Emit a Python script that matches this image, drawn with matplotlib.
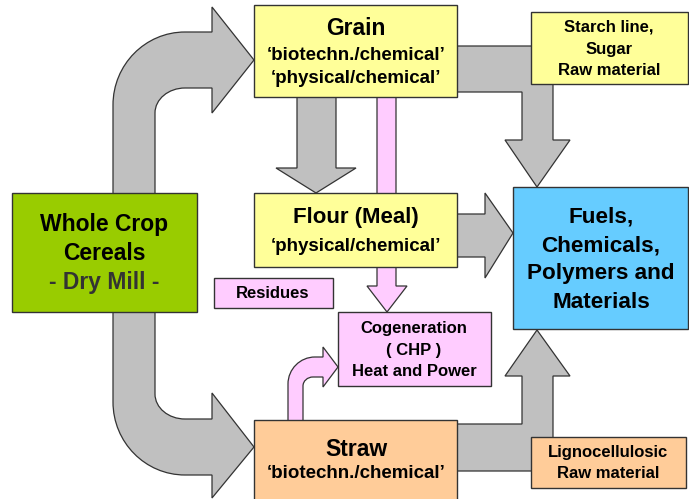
import matplotlib
matplotlib.use("Agg")
import matplotlib.pyplot as plt
from matplotlib.path import Path
from matplotlib.patches import PathPatch, Rectangle

plt.rcParams["font.family"] = ["Liberation Sans", "DejaVu Sans"]

# box texts
whole_crop = ["Whole Crop", "Cereals"]
dry_mill = "- Dry Mill -"
grain_lines = ["Grain", "\u2018biotechn./chemical\u2019", "\u2018physical/chemical\u2019"]
flour_lines = ["Flour (Meal)", "\u2018physical/chemical\u2019"]
straw_lines = ["Straw", "\u2018biotechn./chemical\u2019"]
starch_lines = ["Starch line,", "Sugar", "Raw material"]
ligno_lines = ["Lignocellulosic", "Raw material"]
fuels_lines = ["Fuels,", "Chemicals,", "Polymers and", "Materials"]
cogen_lines = ["Cogeneration", "( CHP )", "Heat and Power"]
residues = "Residues"

GRAY = "#C0C0C0"
PINK = "#FFCCFF"
EDGE = "#333333"
K = 0.552

fig = plt.figure(figsize=(6.89, 4.99), dpi=100)
ax = fig.add_axes([0, 0, 1, 1])
ax.set_xlim(0, 689)
ax.set_ylim(499, 0)
ax.axis("off")


def shape(segs, color, z=1):
    # segs: list of ("M"/"L", (x, y)) or ("C", p1, p2, p3)
    verts, codes = [], []
    for s in segs:
        if s[0] == "M":
            verts.append(s[1]); codes.append(Path.MOVETO)
        elif s[0] == "L":
            verts.append(s[1]); codes.append(Path.LINETO)
        else:
            verts += [s[1], s[2], s[3]]; codes += [Path.CURVE4] * 3
    verts.append(verts[0]); codes.append(Path.CLOSEPOLY)
    ax.add_patch(PathPatch(Path(verts, codes), facecolor=color,
                           edgecolor=EDGE, lw=0.9, zorder=z))


def box(x0, y0, x1, y1, color, z=2):
    ax.add_patch(Rectangle((x0, y0), x1 - x0, y1 - y0, facecolor=color,
                           edgecolor=EDGE, lw=1.0, zorder=z))


def lines(x, ys, texts, sizes, color="black"):
    for y, t, s in zip(ys, texts, sizes):
        ax.text(x, y, t, ha="center", va="center", fontsize=s,
                fontweight="bold", color=color, zorder=5)


# upper curved arrow: whole crop -> grain
shape([("M", (113, 200)), ("L", (113, 105)),
       ("C", (113, 105 - K * 73), (185 - K * 72, 32), (185, 32)),
       ("L", (212, 32)), ("L", (212, 7)), ("L", (254, 60)), ("L", (212, 113)),
       ("L", (212, 88)), ("L", (185, 88)),
       ("C", (185 - K * 30, 88), (155, 113 - K * 25), (155, 113)),
       ("L", (155, 200))], GRAY)

# lower curved arrow: whole crop -> straw
shape([("M", (113, 305)), ("L", (113, 402)),
       ("C", (113, 402 + K * 73), (185 - K * 72, 475), (185, 475)),
       ("L", (212, 475)), ("L", (212, 498)), ("L", (254, 447)), ("L", (212, 393)),
       ("L", (212, 419)), ("L", (185, 419)),
       ("C", (185 - K * 30, 419), (155, 394 + K * 25), (155, 394)),
       ("L", (155, 305))], GRAY)

# grain -> flour
shape([("M", (297, 95)), ("L", (336, 95)), ("L", (336, 168)), ("L", (356, 168)),
       ("L", (316, 193)), ("L", (276, 168)), ("L", (297, 168))], GRAY)

# grain -> starch -> fuels
shape([("M", (455, 46)), ("L", (553, 46)), ("L", (553, 140)), ("L", (570, 140)),
       ("L", (537, 187)), ("L", (505, 140)), ("L", (522, 140)), ("L", (522, 92)),
       ("L", (455, 92))], GRAY)

# flour -> fuels
shape([("M", (455, 214)), ("L", (485, 214)), ("L", (485, 193)), ("L", (513, 233)),
       ("L", (485, 278)), ("L", (485, 257)), ("L", (455, 257))], GRAY)

# straw -> lignocellulosic -> fuels
shape([("M", (455, 471)), ("L", (553, 471)), ("L", (553, 376)), ("L", (570, 376)),
       ("L", (537, 330)), ("L", (505, 376)), ("L", (522, 376)), ("L", (522, 424)),
       ("L", (455, 424))], GRAY)

# pink line grain -> flour -> cogeneration
shape([("M", (377, 95)), ("L", (396, 95)), ("L", (396, 286)), ("L", (407, 286)),
       ("L", (387, 312)), ("L", (367, 286)), ("L", (377, 286))], PINK)

# pink curved arrow straw -> cogeneration
shape([("M", (288, 422)), ("L", (288, 384)),
       ("C", (288, 384 - K * 27), (315 - K * 27, 357), (315, 357)),
       ("L", (323, 357)), ("L", (323, 347)), ("L", (338, 367)), ("L", (323, 387)),
       ("L", (323, 377)), ("L", (313, 377)),
       ("C", (313 - K * 10, 377), (303, 386 - K * 9), (303, 386)),
       ("L", (303, 422))], PINK)

# boxes
box(12, 193, 197, 312, "#99CC00")
box(254, 5, 457, 97, "#FFFF99")
box(531, 12, 688, 84, "#FFFF99")
box(254, 193, 457, 267, "#FFFF99")
box(214, 278, 333, 308, PINK)
box(338, 312, 491, 386, PINK)
box(513, 187, 688, 329, "#66CCFF")
box(254, 420, 457, 503, "#FFCC99")
box(531, 437, 686, 488, "#FFCC99")

# texts
lines(104, [225, 253], whole_crop, [16.5, 16.5])
lines(104, [283], [dry_mill], [16.5], color="#333333")
lines(356, [28, 55, 78], grain_lines, [16.5, 13.5, 13.5])
lines(356, [218, 246], flour_lines, [16, 13.5])
lines(356, [449, 474], straw_lines, [16.5, 13.5])
lines(609, [27, 49, 70], starch_lines, [12, 12, 12])
lines(608, [452, 474], ligno_lines, [12, 12])
lines(601, [217, 246, 274, 302], fuels_lines, [16.2, 16.2, 16.2, 16.2])
lines(414, [328, 350, 371], cogen_lines, [12, 12, 12])
lines(273, [293], [residues], [12])

fig.savefig("out.png", dpi=100)
